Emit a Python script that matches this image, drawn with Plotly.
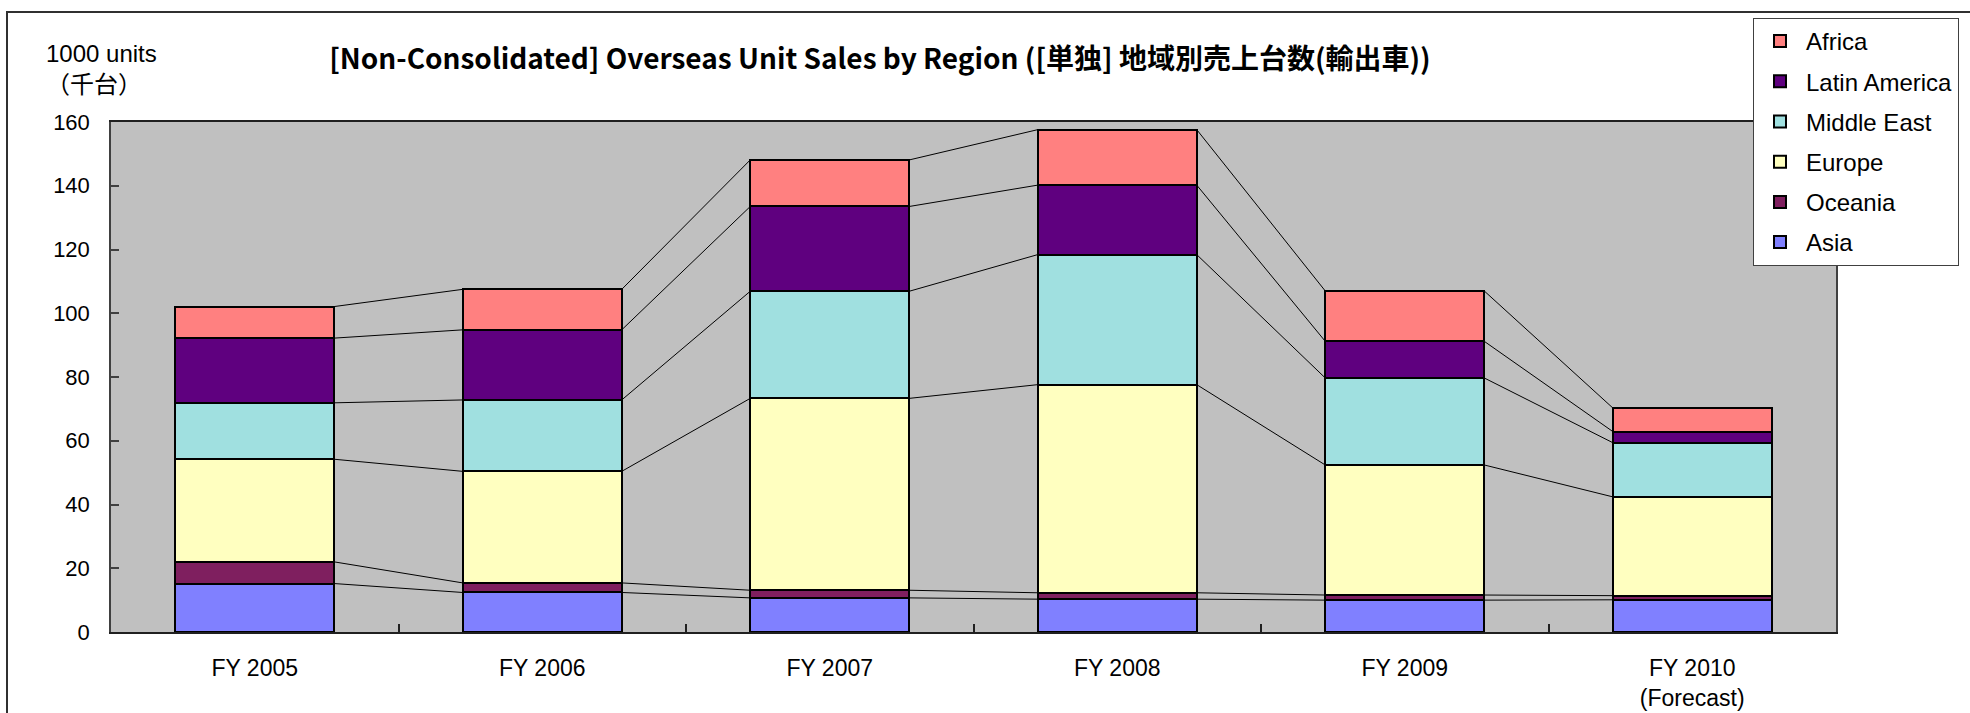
import numpy as np
import plotly.graph_objects as go

categories = ["FY 2005", "FY 2006", "FY 2007", "FY 2008", "FY 2009", "FY 2010<br>(Forecast)"]
asia = [15.2, 12.4, 10.7, 10.3, 10.0, 10.1]
oceania = [6.8, 3.0, 2.4, 2.0, 1.6, 1.3]
europe = [32.2, 35.0, 60.2, 65.3, 40.8, 31.0]
middle_east = [17.7, 22.4, 33.6, 40.8, 27.3, 17.0]
latin_america = [20.3, 22.0, 26.6, 21.8, 11.5, 3.5]
africa = [9.9, 12.7, 14.6, 17.4, 15.8, 7.4]

series_names = ["Asia", "Oceania", "Europe", "Middle East", "Latin America", "Africa"]
series_values = [asia, oceania, europe, middle_east, latin_america, africa]
series_colors = ["#8080FF", "#7F1F5F", "#FFFFC0", "#A0E0E0", "#5F007F", "#FF8080"]

y_ticks = [0, 20, 40, 60, 80, 100, 120, 140, 160]

BAR_W = 0.553
x = np.arange(len(categories))

fig = go.Figure()
n = len(series_names)
for k, (name, vals, col) in enumerate(zip(series_names, series_values, series_colors)):
    fig.add_trace(go.Bar(
        x=x, y=vals, name=name, width=BAR_W,
        marker=dict(color=col, line=dict(color="black", width=2)),
        legendgroup=name, legendrank=1000 + (n - k),
    ))

# series connector lines
cum = np.cumsum(np.array(series_values), axis=0)
hw = BAR_W / 2
for row in cum:
    xs, ys = [], []
    for i in range(len(categories) - 1):
        xs += [i + hw, i + 1 - hw, None]
        ys += [row[i], row[i + 1], None]
    fig.add_trace(go.Scatter(x=xs, y=ys, mode="lines",
                             line=dict(color="black", width=1),
                             showlegend=False, hoverinfo="skip"))

L, R, T, B = 111, 134, 122, 81
W, H = 1970, 713
pw, ph = W - L - R, H - T - B

def px(xp):
    return (xp - L) / pw

def py(yp):
    return (H - B - yp) / ph

base_font = "Liberation Sans, Arial, Noto Sans CJK JP, sans-serif"

fig.update_layout(
    width=W, height=H,
    margin=dict(l=L, r=R, t=T, b=B, autoexpand=False),
    barmode="stack",
    plot_bgcolor="#C0C0C0",
    paper_bgcolor="white",
    font=dict(family=base_font, size=22, color="black"),
    title=dict(
        text="[Non-Consolidated] Overseas Unit Sales by Region ([単独] 地域別売上台数(輸出車))",
        x=880 / W, xanchor="center", y=1 - 59 / H, yanchor="middle",
        font=dict(family="Liberation Sans Narrow, Noto Sans CJK JP, sans-serif", size=28, color="black", weight="bold"),
    ),
    showlegend=True,
    legend=dict(
        x=px(1753), xanchor="left", y=py(18), yanchor="top",
        bgcolor="white", bordercolor="#404040", borderwidth=1,
        traceorder="grouped", tracegroupgap=6, itemwidth=42,
        font=dict(family=base_font, size=24),
        entrywidth=240,
    ),
    xaxis=dict(
        range=[-0.5, len(categories) - 0.5],
        tickmode="array", tickvals=list(x), ticktext=categories,
        ticks="", showgrid=False, zeroline=False,
        showline=True, linecolor="#202020", linewidth=2, mirror=True,
        ticklabelstandoff=14,
        tickfont=dict(size=23),
        minor=dict(tickmode="array", tickvals=list(x[:-1] + 0.5), ticks="inside",
                   ticklen=8, tickcolor="#202020", tickwidth=1.5, showgrid=False),
    ),
    yaxis=dict(
        range=[0, 160], tickmode="array", tickvals=y_ticks,
        ticks="inside", ticklen=8, tickcolor="#404040", tickwidth=1.5,
        showgrid=False, zeroline=False,
        showline=True, linecolor="#404040", linewidth=1.5, mirror=True,
        ticklabelstandoff=15,
        tickfont=dict(size=22),
    ),
    annotations=[dict(
        text="1000 units<br>（千台）", xref="paper", yref="paper",
        x=px(44), y=py(69), xanchor="left", yanchor="middle", align="left",
        showarrow=False, font=dict(family=base_font, size=24),
    )],
    shapes=[dict(
        type="rect", xref="paper", yref="paper",
        x0=px(7), x1=px(1990), y0=py(730), y1=py(12),
        line=dict(color="#303030", width=2), layer="below",
    )],
)

fig.write_html("out.html")
